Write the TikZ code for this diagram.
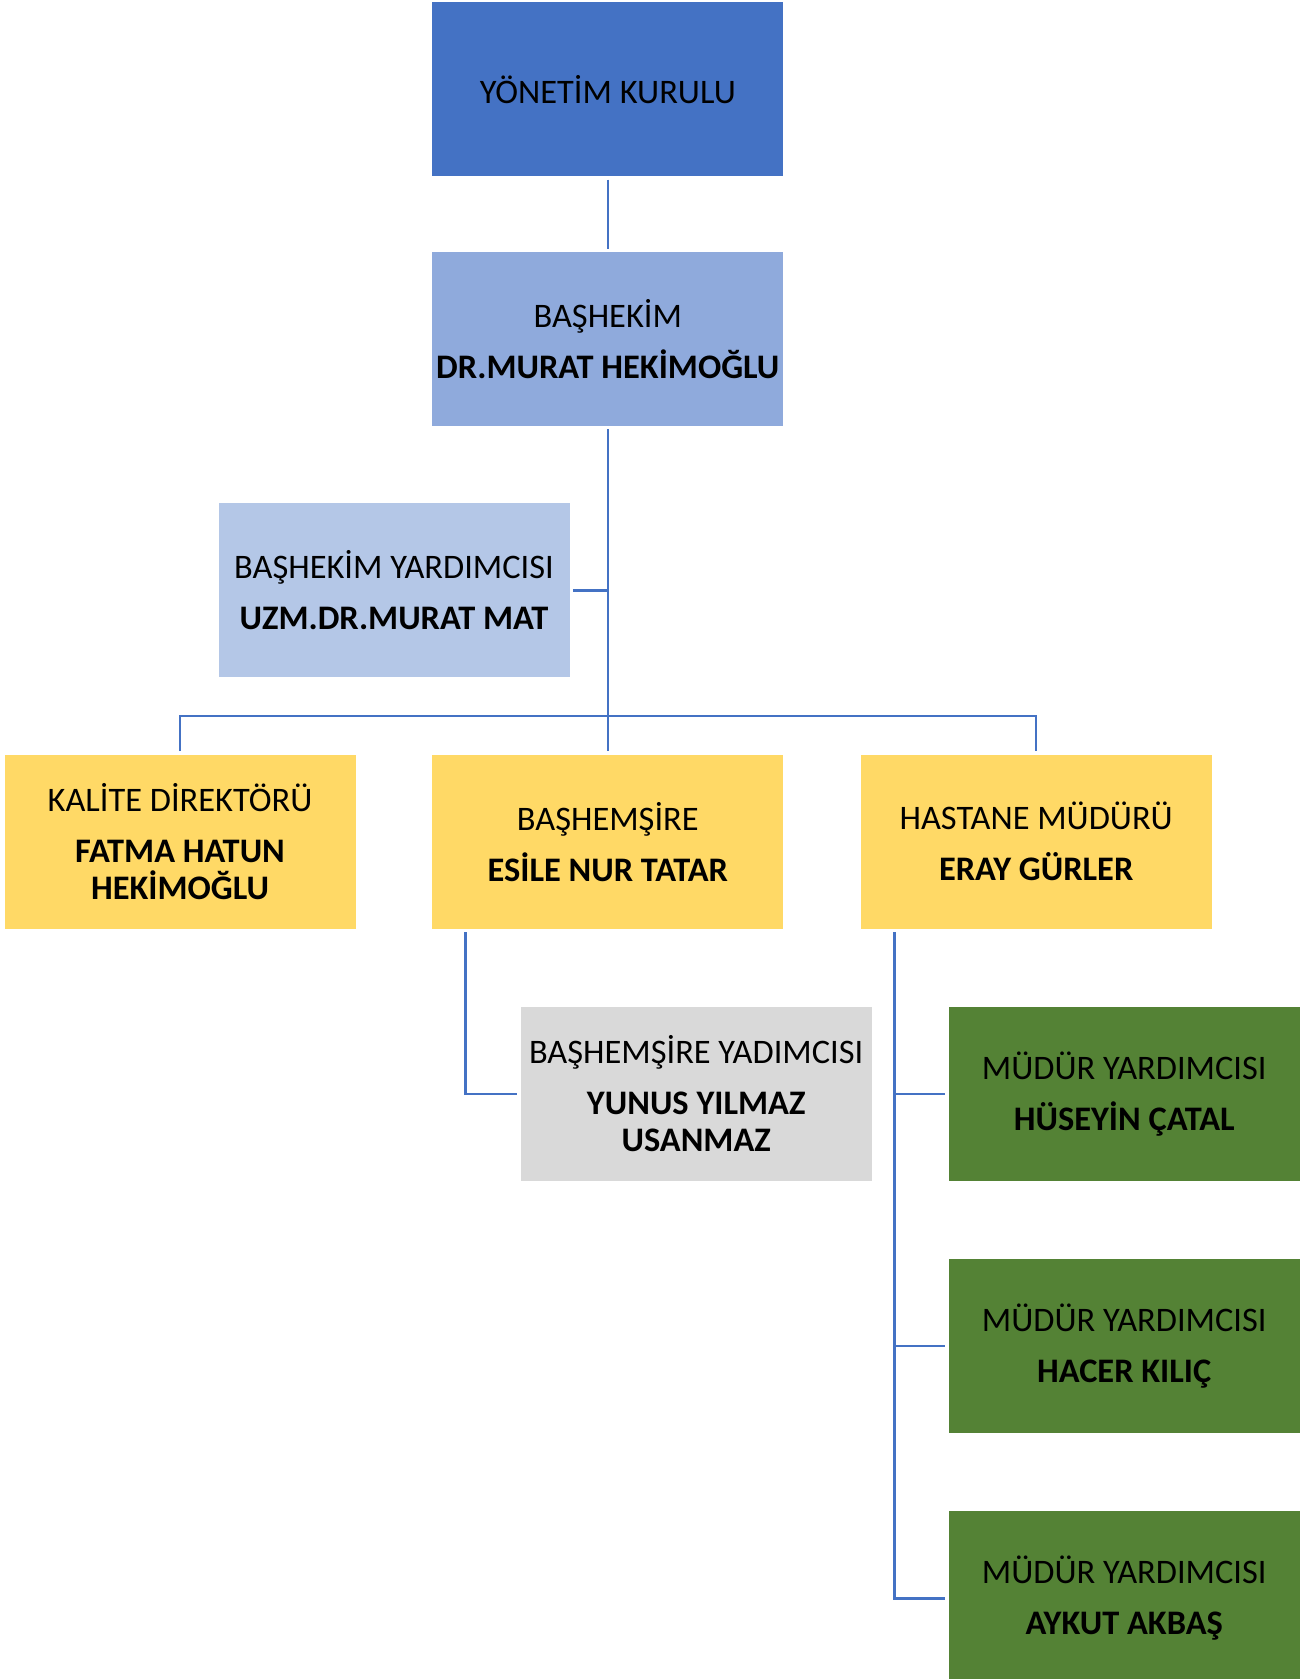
\documentclass[tikz,border=0pt]{standalone}
\usepackage{fontspec}
\setmainfont{Carlito}
\usetikzlibrary{positioning}
\definecolor{boardblue}{HTML}{4472C4}
\definecolor{chiefblue}{HTML}{8FAADC}
\definecolor{deputyblue}{HTML}{B4C7E7}
\definecolor{unityellow}{HTML}{FFD966}
\definecolor{nursegray}{HTML}{D9D9D9}
\definecolor{mgrgreen}{HTML}{548235}
\definecolor{linkblue}{HTML}{4472C4}

\begin{document}
\begin{tikzpicture}[
  every node/.style={font=\fontsize{17.2}{18.5}\selectfont},
  box/.style={rectangle, minimum width=175.5pt, minimum height=87pt, inner sep=0pt, align=center},
  link/.style={draw=linkblue, line width=1.25pt},
]
\useasboundingbox (0,0) rectangle (652.5pt,-839.5pt);

% Board and chief physician
\node[box, fill=boardblue] (yk) at (303.9pt,-44.6pt) {YÖNETİM KURULU};
\node[box, fill=chiefblue, below=37.5pt of yk] (bh) {BAŞHEKİM\\[7pt]\textbf{DR.MURAT HEKİMOĞLU}};

% Deputy chief physician
\node[box, fill=deputyblue, below=38.3pt of bh, xshift=-106.9pt] (yrd) {BAŞHEKİM YARDIMCISI\\[7pt]\textbf{UZM.DR.MURAT MAT}};

% Directors row
\node[box, fill=unityellow, below=163.9pt of bh] (bsh) {BAŞHEMŞİRE\\[7pt]\textbf{ESİLE NUR TATAR}};
\node[box, fill=unityellow, left=38pt of bsh] (kal) {KALİTE DİREKTÖRÜ\\[7pt]\textbf{FATMA HATUN}\\\textbf{HEKİMOĞLU}};
\node[box, fill=unityellow, right=38.3pt of bsh] (hm) {HASTANE MÜDÜRÜ\\[7pt]\textbf{ERAY GÜRLER}};

% Deputies below
\node[box, fill=nursegray, below=38.8pt of bsh, xshift=44.2pt] (gray) {BAŞHEMŞİRE YADIMCISI\\[7pt]\textbf{YUNUS YILMAZ}\\\textbf{USANMAZ}};
\node[box, fill=mgrgreen, below=38.8pt of hm, xshift=44pt] (md1) {MÜDÜR YARDIMCISI\\[7pt]\textbf{HÜSEYİN ÇATAL}};
\node[box, fill=mgrgreen, below=38.7pt of md1] (md2) {MÜDÜR YARDIMCISI\\[7pt]\textbf{HACER KILIÇ}};
\node[box, fill=mgrgreen, below=38.7pt of md2] (md3) {MÜDÜR YARDIMCISI\\[7pt]\textbf{AYKUT AKBAŞ}};

% Connectors
\coordinate (bus) at ([yshift=19pt]bsh.north);
\draw[link, shorten <=1.5pt, shorten >=1.5pt] (yk.south) -- (bh.north);
\draw[link, shorten <=1.5pt, shorten >=1.5pt] (bh.south) -- (bsh.north);
\draw[link, shorten <=1.5pt] (yrd.east) -- (yrd.east -| bh.south);
\draw[link, shorten <=1.5pt, shorten >=1.5pt] (kal.north) |- (bus) -| (hm.north);
\draw[link, shorten <=1.5pt, shorten >=1.5pt] ([xshift=16.9pt]bsh.south west) |- (gray.west);
\foreach \m in {md1,md2,md3}
  \draw[link, shorten <=1.5pt, shorten >=1.5pt] ([xshift=17pt]hm.south west) |- (\m.west);

\end{tikzpicture}
\end{document}
